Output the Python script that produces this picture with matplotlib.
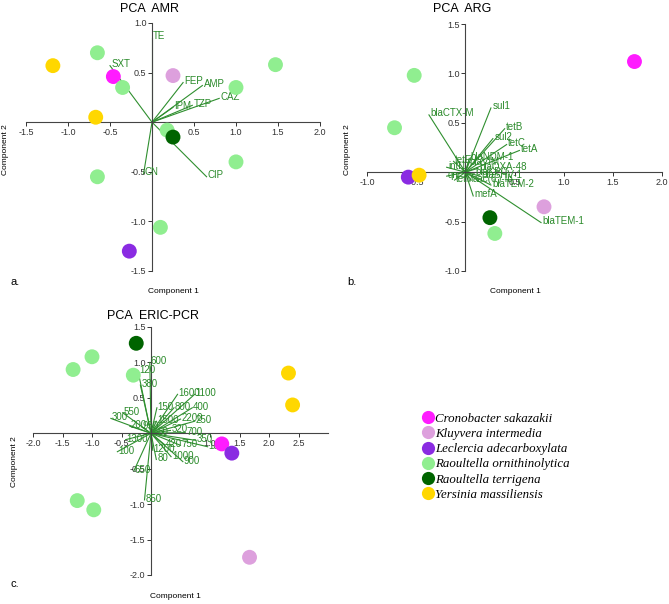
import matplotlib
matplotlib.use("Agg")
import matplotlib.pyplot as plt
from matplotlib.lines import Line2D

plt.rcParams['font.family'] = ['Liberation Sans', 'DejaVu Sans']

species = ['Cronobacter sakazakii', 'Kluyvera intermedia', 'Leclercia adecarboxylata',
           'Raoultella ornithinolytica', 'Raoultella terrigena', 'Yersinia massiliensis']
colors = ['#ff1cff', '#dda0dd', '#8a2be2', '#90ee90', '#006400', '#ffd700']

# PCA AMR scores
amr_x = [-1.18, -0.67, -0.65, -0.46, -0.35, 0.25, 1.47, 1.0, 0.18, 0.25, 1.0, -0.65, 0.1, -0.27]
amr_y = [0.57, 0.05, 0.70, 0.46, 0.35, 0.47, 0.58, 0.35, -0.08, -0.15, -0.40, -0.55, -1.06, -1.30]
amr_sp = [5, 5, 3, 0, 3, 1, 3, 3, 3, 4, 3, 3, 3, 2]
# AMR loadings
amr_names = ['TE', 'SXT', 'FEP', 'AMP', 'CAZ', 'TZP', 'IPM', 'CIP', 'CN']
amr_lx = [0.0, -0.5, 0.37, 0.6, 0.8, 0.48, 0.25, 0.65, -0.1]
amr_ly = [0.85, 0.57, 0.40, 0.37, 0.24, 0.17, 0.15, -0.55, -0.52]

# PCA ARG scores
arg_x = [1.72, -0.52, -0.72, -0.58, -0.47, 0.8, 0.25, 0.3]
arg_y = [1.12, 0.98, 0.45, -0.05, -0.03, -0.35, -0.46, -0.62]
arg_sp = [0, 3, 3, 2, 5, 1, 4, 3]
# ARG loadings
arg_names = ['blaCTX-M', 'sul1', 'tetB', 'sul2', 'tetC', 'tetA', 'blaTEM-1', 'blaTEM-2', 'mefA',
             'intI1', 'tetE', 'blaNDM-1', 'blaVIM', 'blaOXA-48', 'qnrS', 'tetM', 'blaSHV-1',
             "aac(6')-Ib", 'blaKPC']
arg_lx = [-0.37, 0.26, 0.40, 0.28, 0.42, 0.55, 0.77, 0.26, 0.08,
          -0.19, -0.12, 0.04, 0.03, 0.13, -0.19, -0.11, 0.15, 0.06, 0.09]
arg_ly = [0.58, 0.65, 0.44, 0.34, 0.28, 0.22, -0.51, -0.13, -0.24,
          0.05, 0.11, 0.14, 0.09, 0.04, -0.04, -0.08, -0.04, -0.08, -0.01]

# PCA ERIC-PCR scores
eric_x = [-0.25, -1.0, -1.32, -0.3, 2.33, 2.4, 1.2, 1.37, -1.25, -0.97, 1.67]
eric_y = [1.27, 1.08, 0.9, 0.82, 0.85, 0.4, -0.15, -0.28, -0.95, -1.08, -1.75]
eric_sp = [4, 3, 3, 3, 5, 5, 0, 2, 3, 3, 1]
# ERIC-PCR loadings
eric_names = ['600', '120', '380', '1600', '1100', '150', '800', '400', '2200', '250', '1500',
              '550', '300', '200', '950', '320', '700', '60', '1300', '100', '350', '180',
              '750', '420', '1200', '80', '1000', '900', '650', '850']
eric_lx = [-0.02, -0.22, -0.18, 0.45, 0.74, 0.10, 0.39, 0.70, 0.50, 0.74, 0.09,
           -0.48, -0.68, -0.36, -0.16, 0.33, 0.58, 0.10, -0.43, -0.57, 0.76, 0.96,
           0.50, 0.23, 0.03, 0.09, 0.34, 0.54, -0.29, -0.11]
eric_ly = [1.0, 0.88, 0.68, 0.55, 0.55, 0.36, 0.36, 0.36, 0.20, 0.17, 0.17,
           0.29, 0.21, 0.10, 0.09, 0.04, 0.01, 0.0, -0.09, -0.26, -0.10, -0.19,
           -0.17, -0.16, -0.24, -0.37, -0.33, -0.40, -0.53, -0.94]

vec_col = '#2f8f2f'
lab_col = '#2a8a2a'


def pca_panel(rect, xs, ys, sp, names, lx, ly, xlim, ylim, xticks, yticks):
    ax = fig.add_axes(rect)
    for n, x, y in zip(names, lx, ly):
        ax.plot([0, x], [0, y], color=vec_col, lw=0.8, zorder=2)
        ax.text(x + 0.015, y + 0.015, n, color=lab_col, fontsize=7, ha='left', va='center', zorder=3)
    ax.scatter(xs, ys, c=[colors[i] for i in sp], s=115, linewidths=0, zorder=4)
    ax.set_xlim(xlim)
    ax.set_ylim(ylim)
    ax.spines['left'].set_position(('data', 0))
    ax.spines['bottom'].set_position(('data', 0))
    ax.spines['top'].set_visible(False)
    ax.spines['right'].set_visible(False)
    for s in ('left', 'bottom'):
        ax.spines[s].set_color('#444444')
        ax.spines[s].set_linewidth(0.8)
    ax.set_xticks(xticks)
    ax.set_yticks(yticks)
    ax.set_xticklabels(['%.1f' % t for t in xticks])
    ax.set_yticklabels(['%.1f' % t for t in yticks])
    ax.tick_params(labelsize=6.5, colors='#333333', length=3, width=0.7, pad=1)
    ax.patch.set_visible(False)
    return ax


fig = plt.figure(figsize=(6.69, 6.04), dpi=100)
W, H = 669, 604


def rect(l, r, t, b):
    return [l / W, 1 - b / H, (r - l) / W, (b - t) / H]


pca_panel(rect(26, 320, 23, 271), amr_x, amr_y, amr_sp, amr_names, amr_lx, amr_ly,
          (-1.5, 2.0), (-1.5, 1.0), [-1.5, -1.0, -0.5, 0.5, 1.0, 1.5, 2.0],
          [-1.5, -1.0, -0.5, 0.5, 1.0])
pca_panel(rect(367, 662, 24, 271), arg_x, arg_y, arg_sp, arg_names, arg_lx, arg_ly,
          (-1.0, 2.0), (-1.0, 1.5), [-1.0, -0.5, 0.5, 1.0, 1.5, 2.0],
          [-1.0, -0.5, 0.5, 1.0, 1.5])
pca_panel(rect(33, 328, 327, 575), eric_x, eric_y, eric_sp, eric_names, eric_lx, eric_ly,
          (-2.0, 3.0), (-2.0, 1.5), [-2.0, -1.5, -1.0, -0.5, 1.0, 1.5, 2.0, 2.5],
          [-2.0, -1.5, -1.0, -0.5, 0.5, 1.0, 1.5])

# titles and labels
fig.text(150 / W, 1 - 9 / H, 'PCA  AMR', ha='center', va='center', fontsize=9)
fig.text(462 / W, 1 - 9 / H, 'PCA  ARG', ha='center', va='center', fontsize=9)
fig.text(153 / W, 1 - 316 / H, 'PCA  ERIC-PCR', ha='center', va='center', fontsize=9)
for x, y in [(173, 291), (515, 291), (175, 596)]:
    fig.text(x / W, 1 - y / H, 'Component 1', ha='center', va='center', fontsize=6)
for x, y in [(6, 150), (348, 150), (14, 462)]:
    fig.text(x / W, 1 - y / H, 'Component 2', ha='center', va='center', fontsize=6, rotation=90)
for x, y, t in [(15, 282, 'a.'), (352, 282, 'b.'), (15, 584, 'c.')]:
    fig.text(x / W, 1 - y / H, t, ha='center', va='center', fontsize=8)

handles = [Line2D([], [], marker='o', ls='', markersize=9.5, markerfacecolor=c,
                  markeredgewidth=0) for c in colors]
fig.legend(handles, species, loc='upper left', bbox_to_anchor=(418 / W, 1 - 406 / H),
           frameon=False, handlelength=0.6, handletextpad=0.25, labelspacing=0.25,
           borderpad=0, prop={'family': 'Liberation Serif', 'style': 'italic', 'size': 9.3})

fig.savefig('out.png', dpi=100)
